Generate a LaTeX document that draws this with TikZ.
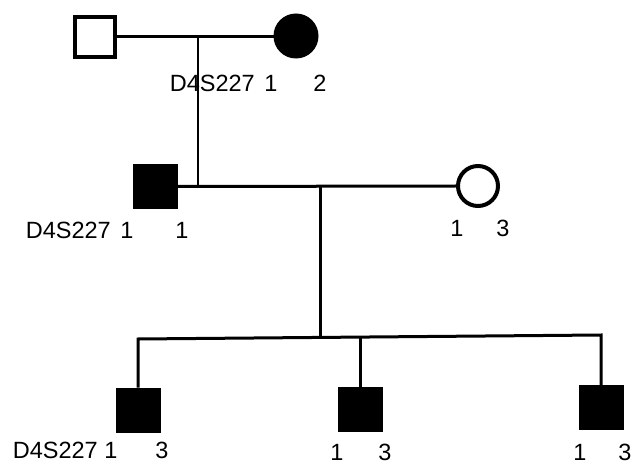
\documentclass[tikz,border=0pt]{standalone}
\usepackage{fontspec}
\setmainfont{Liberation Sans}
\begin{document}
\begin{tikzpicture}[x=1pt,y=-1pt,
  male/.style={draw,rectangle,minimum size=40pt,inner sep=0pt,line width=4pt},
  fmale/.style={draw,fill=black,rectangle,minimum size=44pt,inner sep=0pt,line width=1pt},
  female/.style={draw,circle,minimum size=40pt,inner sep=0pt,line width=4pt},
  ffemale/.style={draw,fill=black,circle,minimum size=44pt,inner sep=0pt,line width=1pt},
  mline/.style={line width=3pt},
  thin/.style={line width=1.5pt},
  lab/.style={font=\fontsize{23.5}{26}\selectfont,inner sep=0pt},
  labe/.style={lab,anchor=east}]
\useasboundingbox (0,0) rectangle (635,465);
% generation I
\node[male] (f1) at (95,37) {};
\node[ffemale] (m1) at (296,36) {};
\draw[mline] (f1.east) -- (f1.east -| m1.west) coordinate (m1w);
\coordinate (d1) at (198,37);
% generation II
\node[fmale] (s2) at (155.5,186.5) {};
\node[female] (w2) at (478,186) {};
\draw[mline] (s2.east) -- (w2.west);
\coordinate (j2) at (198,187);
\draw[thin] (d1) -- (j2);
\coordinate (d2) at (320,187);
\coordinate (sib) at (320,337);
\draw[mline] (d2) -- (sib);
% generation III
\node[fmale] (c1) at (138,410) {};
\node[fmale] (c2) at (360,409.5) {};
\node[fmale] (c3) at (601,407.5) {};
\coordinate (sl) at (138,339);
\coordinate (sr) at (601,335);
\draw[mline] (c1.north) -- (sl) -- (sr) -- (c3.north);
\draw[mline] (c2.north) -- (c2.north |- sib);
% labels
\node[labe] (t1) at (255,83) {D4S227};
\node[lab] (t1a) at (271,83) {1};
\node[lab] (t1b) at (320,83) {2};
\node[labe] (t2) at (111,230) {D4S227};
\node[lab] (t2a) at (127,230) {1};
\node[lab] (t2b) at (182,230) {1};
\node[lab] (t3a) at (457,228) {1};
\node[lab] (t3b) at (503,228) {3};
\node[labe] (t4) at (98,450) {D4S227};
\node[lab] (t4a) at (111,450) {1};
\node[lab] (t4b) at (162,450) {3};
\node[lab] (t5a) at (337,452) {1};
\node[lab] (t5b) at (385,452) {3};
\node[lab] (t6a) at (580,452) {1};
\node[lab] (t6b) at (625,452) {3};
\end{tikzpicture}
\end{document}
